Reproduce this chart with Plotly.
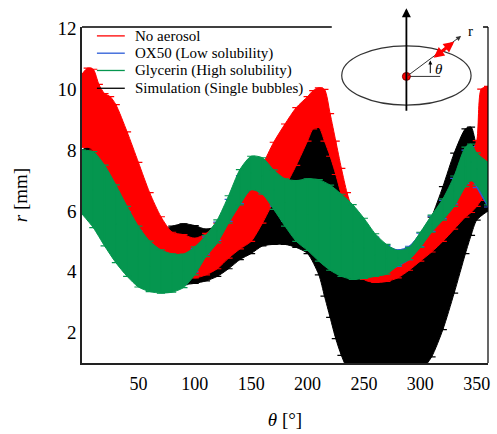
import plotly.graph_objects as go

# ---------------- data ----------------
# theta [deg], centre r [mm], half-width of error bar [mm]
theta_red = [0, 5, 10, 15, 20, 25, 30, 40, 50, 60, 70, 80, 90, 100, 110, 120, 130, 140, 150, 160,
             170, 180, 190, 200, 205, 210, 215, 220, 225, 230, 235, 240, 250, 260, 270, 280, 290,
             300, 310, 320, 330, 340, 345, 350, 354, 360]
r_red = [9.30, 9.40, 9.33, 8.93, 8.58, 8.33, 8.00, 7.20, 6.40, 5.70, 5.13, 4.70, 4.56, 4.45, 4.58,
         4.85, 5.23, 5.55, 5.85, 6.55, 7.28, 7.83, 8.45, 9.03, 9.33, 9.40, 9.15, 8.50, 7.75, 6.95,
         6.10, 5.40, 4.35, 4.10, 4.05, 4.15, 4.33, 4.65, 5.08, 5.50, 6.00, 6.55, 6.93, 7.23, 8.18, 8.35]
err_red = [1.20, 1.30, 1.33, 1.23, 1.28, 1.43, 1.50, 1.40, 1.20, 0.90, 0.68, 0.60, 0.66, 0.65, 0.68,
           0.75, 0.78, 0.80, 0.85, 0.95, 0.98, 1.03, 0.95, 0.73, 0.63, 0.65, 0.85, 0.70, 0.55, 0.45,
           0.50, 0.60, 0.60, 0.45, 0.37, 0.35, 0.28, 0.30, 0.43, 0.50, 0.60, 0.75, 0.98, 1.08, 1.83, 1.75]

theta_std = [0, 10, 20, 30, 40, 50, 60, 70, 80, 90, 100, 110, 120, 130, 140, 150, 160, 170, 180,
             190, 200, 210, 220, 230, 240, 250, 260, 270, 280, 290, 300, 310, 320, 330, 340, 345, 350, 360]

r_blue = [6.65, 6.62, 6.18, 5.60, 5.05, 4.55, 4.22, 4.05, 4.00, 4.07, 4.38, 4.86, 5.33, 6.02, 6.70,
          7.15, 7.08, 6.68, 6.28, 6.00, 5.88, 5.69, 5.45, 5.20, 4.98, 4.77, 4.56, 4.45, 4.45, 4.62,
          5.05, 5.58, 6.05, 6.65, 7.45, 7.60, 7.25, 6.68]
err_blue = [0.50, 0.95, 1.05, 1.00, 0.92, 0.80, 0.68, 0.58, 0.52, 0.46, 0.38, 0.28, 0.30, 0.36, 0.46,
            0.44, 0.48, 0.52, 0.62, 0.80, 0.95, 1.07, 1.12, 1.08, 0.98, 0.80, 0.58, 0.42, 0.27, 0.22,
            0.22, 0.25, 0.30, 0.42, 0.55, 0.52, 0.48, 0.55]

r_green = [6.95, 6.70, 6.18, 5.58, 5.00, 4.50, 4.18, 4.01, 3.96, 4.03, 4.36, 4.85, 5.33, 6.05, 6.78,
           7.25, 7.15, 6.70, 6.28, 6.00, 5.88, 5.69, 5.45, 5.20, 4.98, 4.77, 4.55, 4.41, 4.45, 4.60,
           5.05, 5.58, 6.05, 6.65, 7.45, 7.60, 7.38, 6.90]
err_green = [1.05, 1.25, 1.33, 1.28, 1.15, 1.00, 0.83, 0.71, 0.63, 0.55, 0.46, 0.35, 0.38, 0.45, 0.58,
             0.55, 0.60, 0.65, 0.78, 1.00, 1.18, 1.34, 1.40, 1.35, 1.23, 0.99, 0.70, 0.49, 0.25, 0.20,
             0.25, 0.28, 0.35, 0.50, 0.65, 0.60, 0.53, 0.70]

theta_sim = [0, 10, 20, 30, 40, 50, 60, 70, 80, 90, 100, 110, 120, 130, 140, 150, 160, 170, 180,
             190, 200, 210, 215, 220, 225, 230, 240, 250, 260, 270, 280, 290, 300, 310, 320, 330,
             340, 345, 350, 360]
r_sim = [7.00, 7.00, 6.60, 6.10, 5.60, 5.10, 4.75, 4.53, 4.55, 4.58, 4.57, 4.55, 4.68, 5.00, 5.40,
         5.80, 6.18, 6.40, 6.55, 6.63, 6.63, 6.33, 5.85, 5.25, 4.60, 3.98, 3.00, 2.35, 2.00, 1.90,
         2.05, 2.40, 2.85, 3.50, 4.45, 5.60, 6.65, 6.98, 6.90, 6.55]
err_sim = [1.00, 1.20, 1.20, 1.10, 1.00, 0.90, 0.85, 0.83, 0.95, 1.00, 0.95, 0.85, 0.83, 0.90, 1.00,
           1.20, 1.33, 1.50, 1.65, 1.83, 2.03, 2.43, 2.65, 2.75, 2.80, 2.73, 2.60, 2.45, 2.30, 2.20,
           2.15, 2.10, 2.15, 2.30, 2.35, 2.30, 2.05, 1.78, 1.20, 0.55]

series_names = ["No aerosol", "OX50 (Low solubility)", "Glycerin (High solubility)",
                "Simulation (Single bubbles)"]
x_ticks = [50, 100, 150, 200, 250, 300, 350]
y_ticks = [2, 4, 6, 8, 10, 12]

# ---------------- styling ----------------
COL = {"red": "#ff0000", "blue": "#2a5bd7", "green": "#05964f", "black": "#000000"}
FONT = "Liberation Serif"
W, H = 497, 434
L_PX, R_PX, T_PX, B_PX = 82, 490, 27, 367

fig = go.Figure()


def add_band(theta, r, err, col):
    upper = [a + b for a, b in zip(r, err)]
    lower = [a - b for a, b in zip(r, err)]
    fig.add_trace(go.Scatter(x=theta, y=upper, mode="lines",
                             line=dict(color=col, width=1, shape="spline", smoothing=0.7),
                             showlegend=False, hoverinfo="skip"))
    fig.add_trace(go.Scatter(x=theta, y=lower, mode="lines", fill="tonexty", fillcolor=col,
                             line=dict(color=col, width=1, shape="spline", smoothing=0.7),
                             showlegend=False, hoverinfo="skip"))
    fig.add_trace(go.Scatter(x=theta, y=r, mode="markers",
                             marker=dict(size=1, color=col),
                             error_y=dict(type="data", array=err, color=col, thickness=1.2, width=4),
                             showlegend=False, hoverinfo="skip"))


# drawing order: simulation behind, glycerin on top
add_band(theta_sim, r_sim, err_sim, COL["black"])
add_band(theta_red, r_red, err_red, COL["red"])
add_band(theta_std, r_blue, err_blue, COL["blue"])
add_band(theta_std, r_green, err_green, COL["green"])


def px(x):
    return (x - L_PX) / (R_PX - L_PX)


def py(y):
    return (B_PX - y) / (B_PX - T_PX)


shapes = []
annotations = []

# hand-placed legend (line sample + label)
legend_rows = [36, 53.5, 71, 89]
for name, key, yy in zip(series_names, ["red", "blue", "green", "black"], legend_rows):
    shapes.append(dict(type="line", xref="paper", yref="paper", x0=px(97), x1=px(125),
                       y0=py(yy), y1=py(yy), line=dict(color=COL[key], width=1.3)))
    annotations.append(dict(xref="paper", yref="paper", x=px(133), y=py(yy), xanchor="left",
                            yanchor="middle", showarrow=False, text=name,
                            font=dict(family=FONT, size=15, color="black")))

# top border (interrupted by inset) and right border
shapes.append(dict(type="line", xref="paper", yref="paper", x0=0, x1=px(333), y0=1, y1=1,
                   line=dict(color="black", width=1.5)))
shapes.append(dict(type="line", xref="paper", yref="paper", x0=px(485), x1=1, y0=1, y1=1,
                   line=dict(color="black", width=1.5)))
shapes.append(dict(type="line", xref="paper", yref="paper", x0=1, x1=1, y0=0, y1=1,
                   line=dict(color="black", width=1.2)))
# inset sketch
shapes.append(dict(type="circle", xref="paper", yref="paper", x0=px(343), x1=px(473),
                   y0=py(106), y1=py(46), line=dict(color="#333333", width=1.2)))
shapes.append(dict(type="line", xref="paper", yref="paper", x0=px(408), x1=px(442),
                   y0=py(77), y1=py(77), line=dict(color="#333333", width=1)))
shapes.append(dict(type="circle", xref="paper", yref="paper", x0=px(404), x1=px(412),
                   y0=py(81), y1=py(73), fillcolor="#ff0000", line=dict(color="#8b0000", width=1)))

# vertical axis arrow
annotations.append(dict(xref="paper", yref="paper", x=px(408), y=py(8), ax=0, ay=104,
                        showarrow=True, arrowhead=2, arrowsize=1, arrowwidth=1.8,
                        arrowcolor="black", text=""))
# radial arrow
annotations.append(dict(xref="paper", yref="paper", x=px(463), y=py(36), ax=-55, ay=41,
                        showarrow=True, arrowhead=2, arrowsize=1, arrowwidth=1,
                        arrowcolor="#333333", text=""))
# red double arrow
annotations.append(dict(xref="paper", yref="paper", x=px(456), y=py(42), ax=-22, ay=17,
                        showarrow=True, arrowhead=2, arrowside="end+start", arrowsize=0.7,
                        arrowwidth=3, arrowcolor="#ff0000", text=""))
# small theta arrow
annotations.append(dict(xref="paper", yref="paper", x=px(432), y=py(61), ax=0, ay=14,
                        showarrow=True, arrowhead=2, arrowsize=0.8, arrowwidth=1,
                        arrowcolor="black", text=""))
annotations.append(dict(xref="paper", yref="paper", x=px(441), y=py(69), showarrow=False,
                        xanchor="center", yanchor="middle",
                        text="<i>θ</i>", font=dict(family=FONT, size=15, color="black")))
annotations.append(dict(xref="paper", yref="paper", x=px(472), y=py(31), showarrow=False,
                        xanchor="center", yanchor="middle",
                        text="r", font=dict(family=FONT, size=15, color="black")))

fig.update_layout(
    width=W, height=H,
    margin=dict(l=L_PX, r=W - R_PX, t=T_PX, b=H - B_PX),
    paper_bgcolor="white", plot_bgcolor="white",
    font=dict(family=FONT, size=18, color="black"),
    shapes=shapes, annotations=annotations,
    showlegend=False,
)
fig.update_xaxes(range=[0, 360], tickvals=x_ticks, ticks="", showgrid=False, zeroline=False,
                 showline=True, linecolor="#222222", linewidth=2,
                 tickfont=dict(family=FONT, size=18), ticklabelstandoff=3,
                 title=dict(text="<i>θ</i> [°]", font=dict(family=FONT, size=19), standoff=20))
fig.update_yaxes(range=[1, 12.05], tickvals=y_ticks, ticks="", showgrid=False, zeroline=False,
                 showline=True, linecolor="#222222", linewidth=1.5,
                 tickfont=dict(family=FONT, size=19),
                 title=dict(text="<i>r</i> [mm]", font=dict(family=FONT, size=19), standoff=25))

fig.write_html("out.html", config={"displayModeBar": False},
               post_script="document.body.style.margin='0';")
